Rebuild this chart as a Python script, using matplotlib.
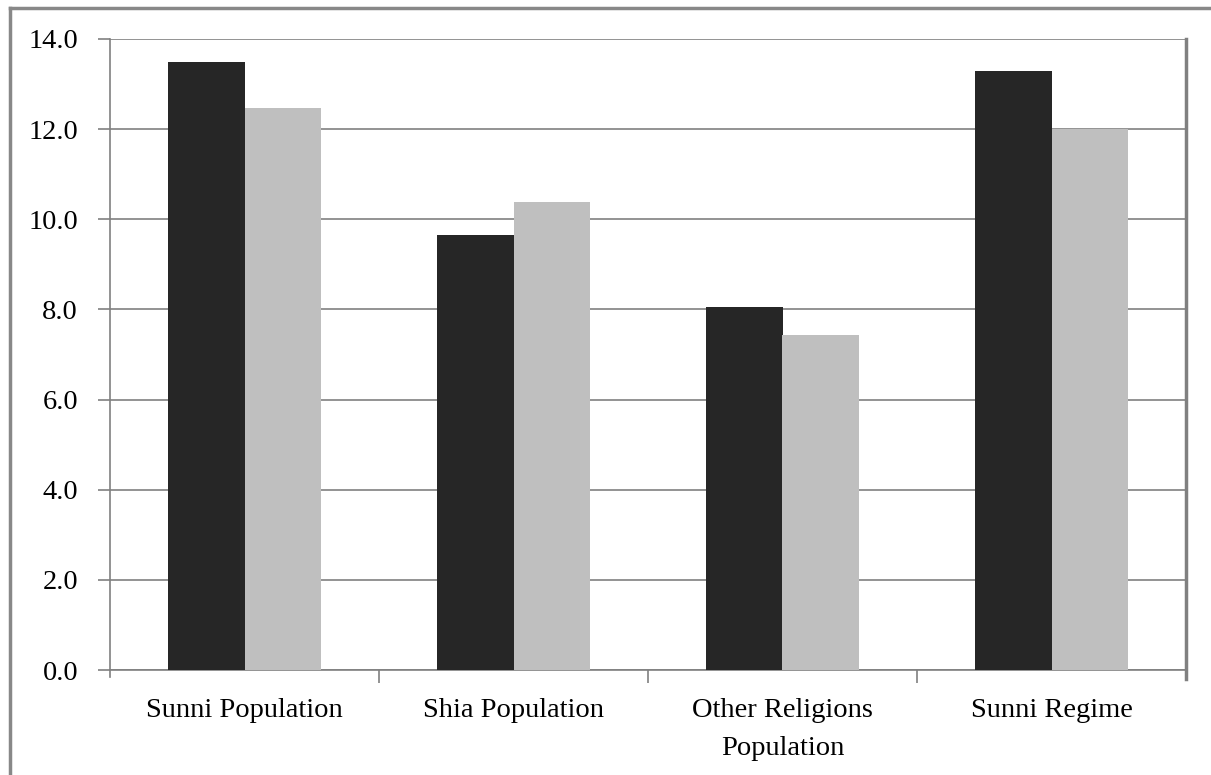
import numpy as np
import matplotlib.pyplot as plt
from matplotlib.lines import Line2D

categories = ['Sunni Population', 'Shia Population', 'Other Religions\nPopulation', 'Sunni Regime']
series_dark = [13.5, 9.66, 8.06, 13.3]
series_light = [12.47, 10.39, 7.44, 12.0]
yticks = [0.0, 2.0, 4.0, 6.0, 8.0, 10.0, 12.0, 14.0]

plt.rcParams['font.family'] = ['Liberation Serif', 'DejaVu Serif']

fig = plt.figure(figsize=(12.11, 7.75), dpi=100)
ax = fig.add_axes([110/1211, 105/775, 1076/1211, 631/775])

x = np.arange(len(categories))
w = 0.286
ax.bar(x - w/2, series_dark, w, color='#262626', zorder=3)
ax.bar(x + w/2, series_light, w, color='#bfbfbf', zorder=3)

ax.set_xlim(-0.5, len(categories) - 0.5)
ax.set_ylim(0, 14)
ax.set_yticks(yticks)
ax.set_yticklabels(['%.1f' % v for v in yticks])
ax.yaxis.grid(True, color='#808080', linewidth=1.2, zorder=0)

ax.set_xticks(x)
ax.set_xticklabels(categories, linespacing=1.7)
ax.set_xticks(np.arange(0.5, len(categories) - 0.5), minor=True)
ax.tick_params(axis='x', which='major', length=0, pad=20, labelsize=20.5)
ax.tick_params(axis='x', which='minor', length=9, color='#808080', width=1.2)
ax.tick_params(axis='y', length=9, color='#808080', width=1.2, pad=14, labelsize=20.5)

ax.spines['top'].set_visible(False)
ax.spines['left'].set_color('#808080')
ax.spines['left'].set_linewidth(1.2)
ax.spines['bottom'].set_color('#808080')
ax.spines['bottom'].set_linewidth(1.2)
ax.spines['right'].set_color('#808080')
ax.spines['right'].set_linewidth(2.5)
ax.spines['left'].set_bounds(-0.15, 14)
ax.spines['right'].set_bounds(-0.2, 14)

# outer chart frame
fig.add_artist(Line2D([10/1211, 1], [1 - 8/775, 1 - 8/775], color='#888888', lw=2.5))
fig.add_artist(Line2D([10/1211, 10/1211], [0, 1 - 8/775], color='#888888', lw=2.5))

fig.savefig('out.png', dpi=100)
